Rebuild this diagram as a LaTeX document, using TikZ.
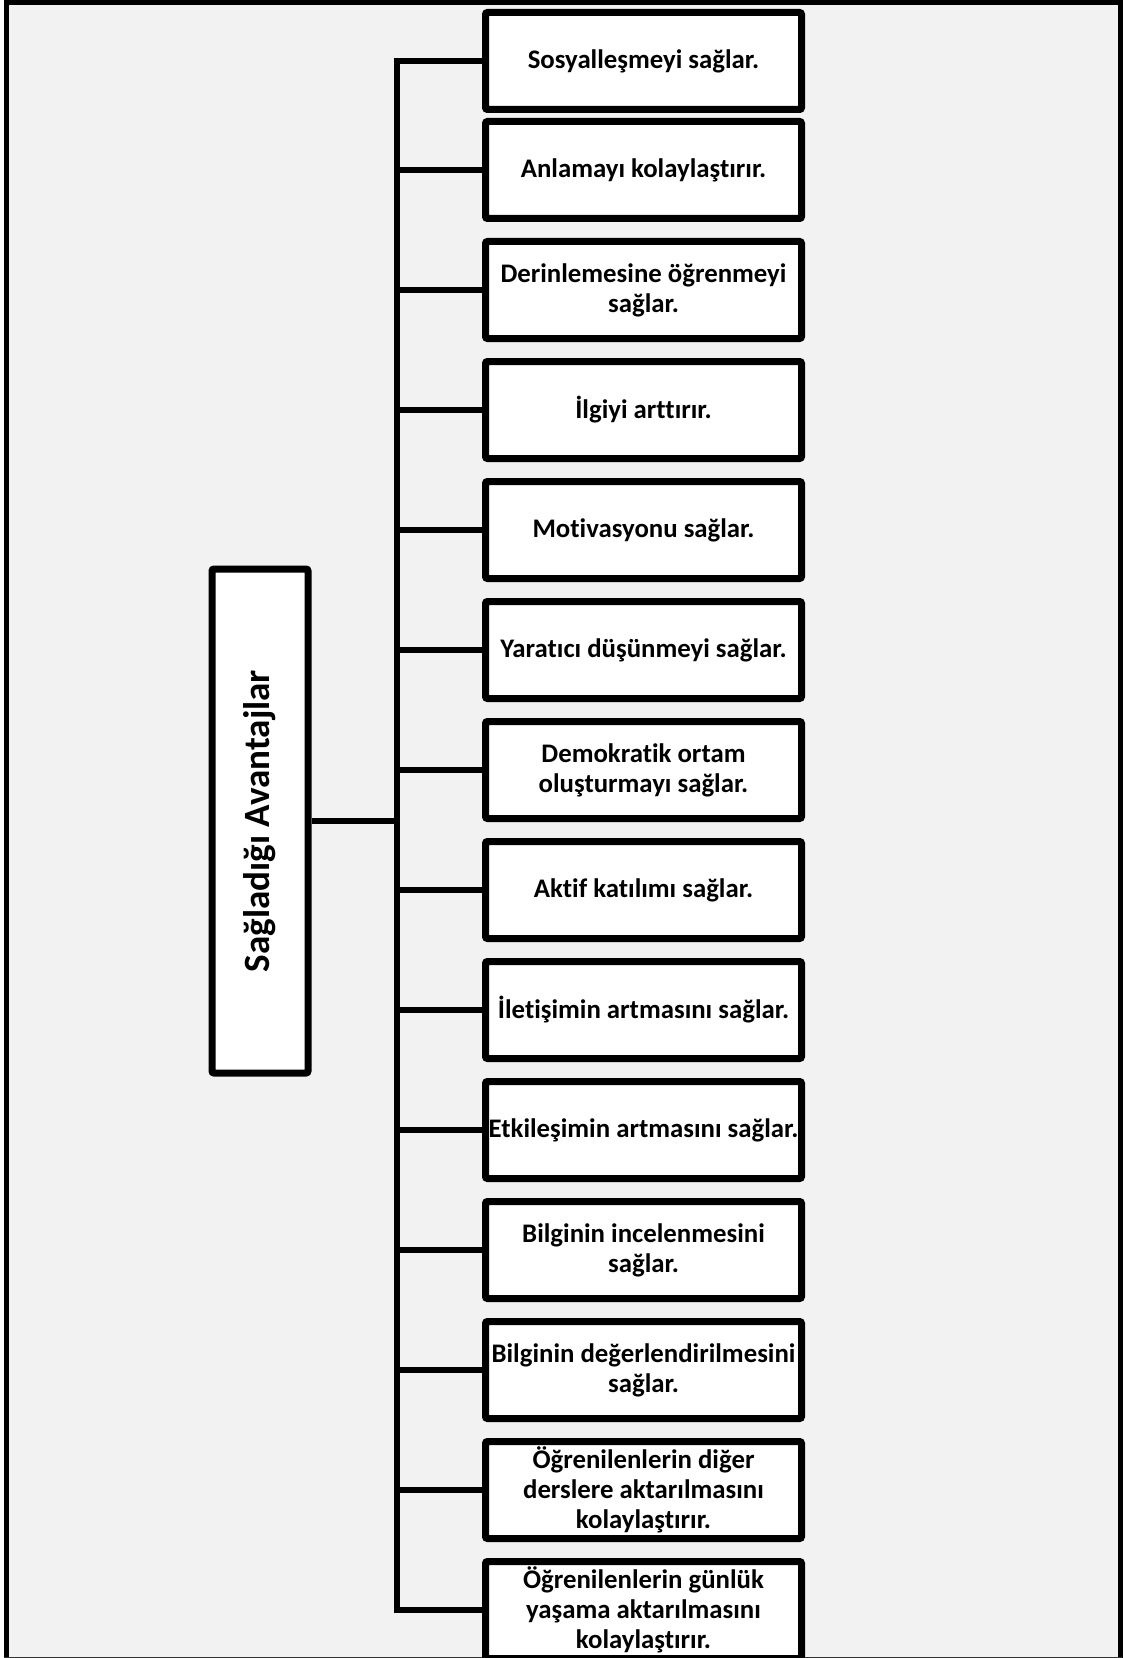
\documentclass[tikz,border=0pt]{standalone}
\usepackage{fontspec}
\setmainfont[RawFeature=-liga]{Carlito}
\usetikzlibrary{shadows}
\definecolor{pagegray}{HTML}{F2F2F2}
\tikzset{
  advbox/.style={draw, line width=5.25pt, fill=white, rounded corners=1.5pt,
    minimum width=237pt, minimum height=72.75pt, inner sep=0pt, align=center,
    font=\bfseries\fontsize{20.1}{22.5}\selectfont,
    drop shadow={shadow xshift=0.8pt, shadow yshift=-1.8pt, opacity=0.25}},
  rootbox/.style={draw, line width=5.25pt, fill=white, rounded corners=1.5pt,
    minimum width=378pt, minimum height=72pt, inner sep=0pt, rotate=90,
    font=\bfseries\fontsize{27.8}{32}\selectfont,
    drop shadow={shadow xshift=-1.8pt, shadow yshift=-0.8pt, opacity=0.25}},
  link/.style={line width=4pt}
}
\begin{document}
\begin{tikzpicture}[x=0.75pt, y=-0.75pt]
  \useasboundingbox (0,0) rectangle (1122,1658);
  % page frame
  \fill[pagegray] (4,1) rectangle (1122,1658);
  \draw[line width=3.75pt] (6.5,1660) -- (6.5,2.5) -- (1120,2.5) -- (1120,1660);
  \draw[line width=0.75pt, black!80] (4,1657.5) -- (1122,1657.5);
  \coordinate (trunk) at (397,820);
  % root box
  \node[rootbox] (root) at (260,821) {Sağladığı Avantajlar};
  % advantage boxes
  \foreach \i/\yy/\txt in {1/61/{Sosyalleşmeyi sağlar.},
      2/170/{Anlamayı kolaylaştırır.},
      3/290/{Derinlemesine öğrenmeyi\\sağlar.},
      4/410/{İlgiyi arttırır.},
      5/530/{Motivasyonu sağlar.},
      6/650/{Yaratıcı düşünmeyi sağlar.},
      7/770/{Demokratik ortam\\oluşturmayı sağlar.},
      8/890/{Aktif katılımı sağlar.},
      9/1010/{İletişimin artmasını sağlar.},
      10/1130/{Etkileşimin artmasını sağlar.},
      11/1250/{Bilginin incelenmesini\\sağlar.},
      12/1370/{Bilginin değerlendirilmesini\\sağlar.},
      13/1490/{Öğrenilenlerin diğer\\derslere aktarılmasını\\kolaylaştırır.},
      14/1610/{Öğrenilenlerin günlük\\yaşama aktarılmasını\\kolaylaştırır.}}
    \node[advbox] (adv\i) at (643.5,\yy) {\txt};
  % connectors
  \draw[link] (root.south) -- (root.south -| trunk);
  \draw[link] (adv1.west) -- (adv1.west -| trunk) -- (adv14.west -| trunk) -- (adv14.west);
  \foreach \i in {2,...,13}
    \draw[link] (adv\i.west -| trunk) -- (adv\i.west);
\end{tikzpicture}
\end{document}
